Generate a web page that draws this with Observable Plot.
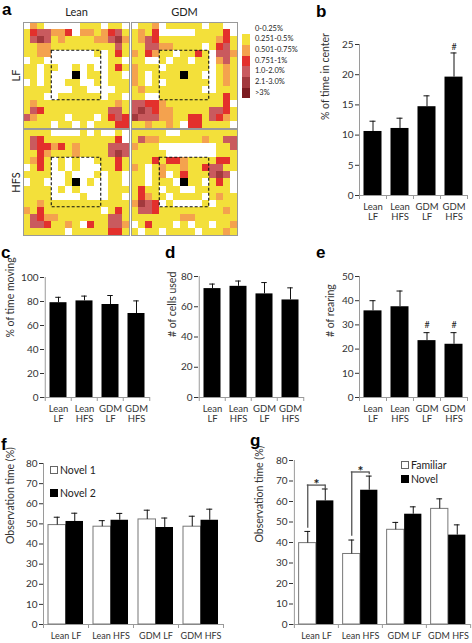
<!DOCTYPE html>
<html><head><meta charset="utf-8">
<script src="https://cdn.jsdelivr.net/npm/d3@7"></script>
<script src="https://cdn.jsdelivr.net/npm/@observablehq/plot@0.6"></script>
<style>
html,body{margin:0;padding:0;background:#fff;}
#fig{position:relative;width:472px;height:643px;overflow:hidden;background:#fff;font-family:Lato,"Open Sans",sans-serif;}
#fig > *{position:absolute;}
.plabel{font-family:"Liberation Sans",Arial,sans-serif;font-weight:bold;font-size:17px;line-height:17px;color:#000;}
.lg{font-family:Lato,sans-serif;color:#222;white-space:nowrap;}
</style></head><body><div id="fig"></div>
<script>
// ---------- DATA ----------
const groups = ["Lean LF", "Lean HFS", "GDM LF", "GDM HFS"];
// panel b: % of time in center
const centerMean = [10.6, 11.1, 14.7, 19.6];
const centerTop  = [12.3, 12.8, 16.5, 23.6];
// panel c: % of time moving
const movingMean = [79, 80.5, 77.5, 70];
const movingTop  = [83.5, 84.5, 85, 80.5];
// panel d: # of cells used
const cellsMean = [72, 73.5, 68.5, 64.5];
const cellsTop  = [75, 77, 76, 72.5];
// panel e: # of rearing
const rearMean = [35.8, 37.5, 23.5, 22];
const rearTop  = [40, 44, 26.8, 26.8];
// panel f: object recognition, two novel objects
const novel1Mean = [49.4, 48.6, 52.2, 48.6];
const novel1Top  = [53.3, 51.6, 56.8, 53.8];
const novel2Mean = [51.2, 51.8, 48.2, 51.8];
const novel2Top  = [55.3, 55.2, 52.9, 57.3];
// panel g: familiar vs novel
const familiarMean = [39.7, 34.4, 46.2, 56.4];
const familiarTop  = [45.4, 41.2, 49.8, 61.3];
const novelMean = [60.3, 65.5, 53.8, 43.6];
const novelTop  = [66.1, 72.4, 57.4, 48.6];
// annotations
const centerHash = [{group: "GDM HFS", y: 24.6}];
const rearHash = [{group: "GDM LF", y: 30}, {group: "GDM HFS", y: 30}];
const gBrackets = [
  {group: "Lean LF", top: 68, left: 47, right: 66, star: 70.2},
  {group: "Lean HFS", top: 74.4, left: 43, right: 73, star: 76.6}
];
// panel a: occupancy heat maps (15x15), codes: 0 white .. 6 darkest, 7 = center object
const legendLabels = ["0-0.25%", "0.251-0.5%", "0.501-0.75%", "0.751-1%", "1.0-2.0%", "2.1-3.0%", ">3%"];
const heatColors = ["#ffffff", "#f3e03a", "#f4a24e", "#e3302c", "#c95a5e", "#a2393d", "#7b1c20", "#000000"];
const dietCols = ["Lean", "GDM"];
const dietRows = ["LF", "HFS"];
const centerZone = [4, 11];
const leanLF = [
"021000001110110","134422302212341","145412111122452","112211111111141","112200000010131",
"011000000000110","110110010100131","110100070110110","010100110010111","111100011000011",
"111001111110110","121111111111121","143111111111441","421111011101343","111101101011133"];
const gdmLF = [
"011201111101100","121300000111130","124311111111231","114422111101341","213211011310442",
"110010110110241","211101111110121","210111171100121","210101111110121","121111111100111",
"110011111111131","443321111111130","454322111114431","544422113314321","112112103311110"];
const leanHFS = [
"111100001010010","143111111111130","143323121111444","113211121111454","123101010011131",
"013101010001131","111100100010110","011000170100110","111101010000111","111100001000110",
"112111111111111","213111111110131","143221111111441","144311210311442","111111011111331"];
const gdmHFS = [
"111110011111111","142211111121144","211100000000114","111110000000111","111313321111331",
"210121121134411","110120131114540","110111071101310","131101100111110","132110111101211",
"254301000010111","144311111111121","111111122111111","013111010110112","101101111011121"];

// ---------- HELPERS ----------
const fig = document.getElementById("fig");
const AX = "#9a9a9a", TXT = "#333";
function place(el, left, top) { el.style.left = left + "px"; el.style.top = top + "px"; fig.appendChild(el); return el; }
function div(cls, html) { const d = document.createElement("div"); if (cls) d.className = cls; d.innerHTML = html; return d; }

// ---------- PANEL A ----------
const cells = [];
[["Lean","LF",leanLF],["GDM","LF",gdmLF],["Lean","HFS",leanHFS],["GDM","HFS",gdmHFS]].forEach(([fx, fy, rows]) => {
  rows.forEach((r, i) => [...r].forEach((c, j) => cells.push({fx, fy, col: j, row: i, code: +c})));
});
const heat = Plot.plot({
  width: 240, height: 238, marginLeft: 23, marginTop: 21, marginRight: 3, marginBottom: 3,
  style: {fontFamily: "Lato, sans-serif", color: "#222", background: "transparent"},
  fx: {domain: dietCols, paddingInner: 0.02, paddingOuter: 0},
  fy: {domain: dietRows, paddingInner: 0.01, paddingOuter: 0},
  x: {domain: [0, 15], axis: null},
  y: {domain: [0, 15], reverse: true, axis: null},
  color: {type: "ordinal", domain: d3.range(8), range: heatColors},
  marks: [
    Plot.rect(cells, {x1: "col", x2: d => d.col + 1, y1: "row", y2: d => d.row + 1, fill: "code", fx: "fx", fy: "fy", shapeRendering: "crispEdges"}),
    Plot.rect([centerZone], {x1: d => d[0], x2: d => d[1], y1: d => d[0], y2: d => d[1], fill: "none", stroke: "#111", strokeWidth: 1.1, strokeDasharray: "3,2"}),
    Plot.frame({stroke: "#999"}),
    Plot.axisFx({anchor: "top", tickSize: 0, tickPadding: 7, label: null, fontSize: 11}),
    Plot.axisFy({anchor: "left", tickSize: 0, tickPadding: 4, tickRotate: -90, label: null, fontSize: 11})
  ]
});
place(heat, 0, 0);
legendLabels.forEach((lab, i) => {
  const sw = div(null, ""); sw.style.width = "8px"; sw.style.height = "10.7px"; sw.style.background = heatColors[i];
  place(sw, 242, 23.5 + 10.7 * i);
  const t = div("lg", lab); t.style.fontSize = "7.5px"; t.style.lineHeight = "10.7px";
  place(t, 255, 23.5 + 10.7 * i);
});

// ---------- BAR PANELS ----------
function barPanel(o) {
  const plotW = o.width - o.mL - o.mR, plotH = o.height - o.mT - o.mB;
  const n = groups.length, bw = plotW / n;
  const k = (o.yDomain[1] - o.yDomain[0]) / plotH;
  const capW = 6;
  const marks = [
    Plot.ruleY([o.yDomain[0]], {stroke: AX}),
    Plot.ruleX([groups[0]], {dx: -bw / 2, y1: o.yDomain[0], y2: o.yDomain[1], stroke: AX}),
    Plot.ruleX(groups, {dx: -bw / 2, y1: 0, y2: -4 * k, stroke: AX}),
    Plot.ruleX([groups[n - 1]], {dx: bw / 2, y1: 0, y2: -4 * k, stroke: AX})
  ];
  for (const s of o.series) {
    const data = groups.map((g, i) => ({group: g, v: s.values[i], e: s.tops[i]}));
    const off = s.offset || 0, half = s.barW / 2;
    marks.push(Plot.barY(data, {x: "group", y: "v", fill: s.fill, stroke: s.stroke || "none", strokeWidth: 1,
      insetLeft: bw / 2 + off - half, insetRight: bw / 2 - off - half}));
    marks.push(Plot.ruleX(data, {x: "group", y1: "v", y2: "e", dx: off, stroke: "#111"}));
    marks.push(Plot.tickY(data, {x: "group", y: "e", stroke: "#111",
      insetLeft: bw / 2 + off - capW / 2, insetRight: bw / 2 - off - capW / 2}));
  }
  marks.push(Plot.axisY({ticks: o.yTicks, tickSize: 4, tickPadding: 2, fontSize: o.yfs || 10, label: null}));
  marks.push(Plot.axisX({tickSize: 0, tickPadding: o.tickPad, fontSize: o.xfs, label: null, lineHeight: 1.08,
    tickFormat: o.twoLine ? (d => d.replace(" ", "\n")) : (d => d)}));
  marks.push(Plot.text([o.title], {frameAnchor: "left", dx: o.titleDx, rotate: -90, fontSize: o.tfs || 10.5, fill: TXT}));
  if (o.extra) marks.push(...o.extra(bw, k));
  const svg = Plot.plot({
    width: o.width, height: o.height, marginLeft: o.mL, marginRight: o.mR, marginTop: o.mT, marginBottom: o.mB,
    style: {fontFamily: "Lato, sans-serif", color: TXT, background: "transparent", overflow: "visible"},
    x: {type: "band", domain: groups, padding: 0},
    y: {domain: o.yDomain},
    marks
  });
  place(svg, o.left, o.top);
}

// b
barPanel({left: 310, top: 30, width: 162, height: 205, mL: 49, mR: 5, mT: 14, mB: 40,
  yDomain: [0, 25], yTicks: [0, 5, 10, 15, 20, 25], twoLine: true, xfs: 9.5, tickPad: 7,
  title: "% of time in center", titleDx: -34,
  series: [{values: centerMean, tops: centerTop, fill: "#000", barW: 18}],
  extra: () => [Plot.text(centerHash, {x: "group", y: "y", text: () => "#", fontSize: 9, fill: "#222"})]
});
// c
barPanel({left: 0, top: 262, width: 156, height: 175, mL: 44, mR: 6, mT: 15, mB: 40,
  yDomain: [0, 100], yTicks: [0, 20, 40, 60, 80, 100], twoLine: true, xfs: 9.5, tickPad: 7,
  title: "% of time moving", titleDx: -34,
  series: [{values: movingMean, tops: movingTop, fill: "#000", barW: 17.5}]
});
// d
barPanel({left: 155, top: 262, width: 155, height: 175, mL: 43, mR: 6, mT: 14, mB: 40,
  yDomain: [0, 80], yTicks: [0, 20, 40, 60, 80], twoLine: true, xfs: 9.5, tickPad: 7,
  title: "# of cells used", titleDx: -26,
  series: [{values: cellsMean, tops: cellsTop, fill: "#000", barW: 17.5}]
});
// e
barPanel({left: 310, top: 262, width: 162, height: 175, mL: 49, mR: 5, mT: 14, mB: 40,
  yDomain: [0, 50], yTicks: [0, 10, 20, 30, 40, 50], twoLine: true, xfs: 9.5, tickPad: 7,
  title: "# of rearing", titleDx: -29,
  series: [{values: rearMean, tops: rearTop, fill: "#000", barW: 18}],
  extra: () => [Plot.text(rearHash, {x: "group", y: "y", text: () => "#", fontSize: 9, fill: "#222"})]
});
// f
barPanel({left: 0, top: 448, width: 236, height: 195, mL: 43, mR: 13, mT: 15, mB: 19,
  yDomain: [0, 80], yTicks: d3.range(0, 81, 10), twoLine: false, xfs: 9, tickPad: 8,
  title: "Observation time (%)", titleDx: -33,
  series: [
    {values: novel1Mean, tops: novel1Top, fill: "#fff", stroke: "#777", barW: 17.5, offset: -8.75},
    {values: novel2Mean, tops: novel2Top, fill: "#000", barW: 17.5, offset: 8.75}
  ]
});
// g
barPanel({left: 236, top: 448, width: 236, height: 195, mL: 57, mR: 2, mT: 12, mB: 19,
  yDomain: [0, 80], yTicks: d3.range(0, 81, 10), twoLine: false, xfs: 9, tickPad: 8,
  title: "Observation time (%)", titleDx: -34,
  series: [
    {values: familiarMean, tops: familiarTop, fill: "#fff", stroke: "#777", barW: 17.5, offset: -8.75},
    {values: novelMean, tops: novelTop, fill: "#000", barW: 17.5, offset: 8.75}
  ],
  extra: (bw) => [
    Plot.ruleX(gBrackets, {x: "group", y1: "left", y2: "top", dx: -8.75, stroke: "#555", strokeWidth: 1.3}),
    Plot.ruleX(gBrackets, {x: "group", y1: "right", y2: "top", dx: 8.75, stroke: "#555", strokeWidth: 1.3}),
    Plot.tickY(gBrackets, {x: "group", y: "top", stroke: "#555", strokeWidth: 1.3, insetLeft: bw / 2 - 8.75 - 0.6, insetRight: bw / 2 - 8.75 - 0.6}),
    Plot.text(gBrackets, {x: "group", y: "star", text: () => "*", fontSize: 14, fontWeight: "bold", dy: 4, fill: "#222"})
  ]
});

// ---------- LEGENDS f / g ----------
function legendItem(left, top, fill, label) {
  const sq = div(null, ""); sq.style.width = "6px"; sq.style.height = "6px"; sq.style.background = fill;
  sq.style.border = "1px solid " + (fill === "#000" ? "#000" : "#666");
  place(sq, left, top - 4);
  const t = div("lg", label); t.style.fontSize = "10.5px"; t.style.lineHeight = "12px";
  place(t, left + 10, top - 6.5);
}
legendItem(50, 470, "#fff", "Novel 1");
legendItem(50, 493, "#000", "Novel 2");
legendItem(401, 465, "#fff", "Familiar");
legendItem(401, 479, "#000", "Novel");

// ---------- PANEL LETTERS ----------
[["a", 2, 1], ["b", 316, 3], ["c", 1, 244], ["d", 165, 244], ["e", 316, 244], ["f", 1, 436], ["g", 250, 432]]
  .forEach(([l, x, y]) => place(div("plabel", l), x, y));
</script></body></html>
